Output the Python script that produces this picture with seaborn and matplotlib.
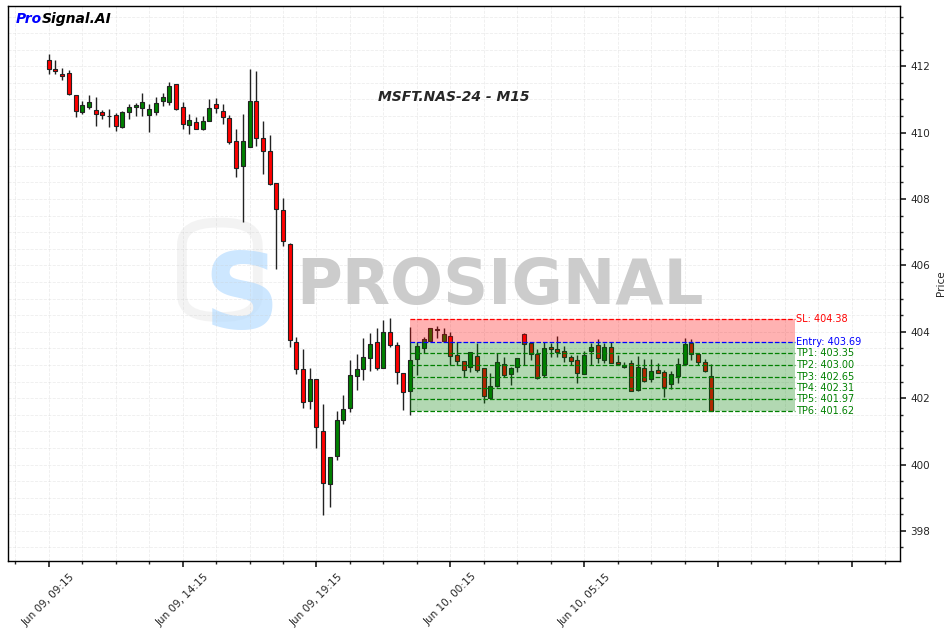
import pandas as pd
import seaborn as sns
import matplotlib
matplotlib.use("Agg")
import matplotlib.pyplot as plt
from matplotlib.ticker import MultipleLocator, FuncFormatter
from matplotlib.patches import FancyBboxPatch

# Dados OHLC (M15)
opens = [412.20, 411.93, 411.78, 411.81, 411.12, 410.62, 410.78, 410.67, 410.61, 410.50,
         410.52, 410.17, 410.61, 410.78, 410.73, 410.52, 410.61, 410.96, 410.92, 411.46,
         410.76, 410.24, 410.33, 410.12, 410.36, 410.85, 410.64, 410.43, 409.74, 409.01,
         409.58, 410.94, 409.85, 409.46, 408.47, 407.66, 406.63, 403.70, 402.87, 401.92,
         402.57, 401.02, 399.40, 400.27, 401.33, 401.69, 402.67, 402.87, 403.22, 403.69,
         402.90, 403.98, 403.59, 402.75, 402.20, 403.17, 403.50, 403.73, 404.08, 403.72,
         403.88, 403.29, 403.11, 402.93, 403.28, 402.90, 401.99, 402.37, 403.04, 402.72,
         402.95, 403.92, 403.65, 403.32, 402.70, 403.53, 403.48, 403.41, 403.23, 403.14,
         402.73, 403.43, 403.59, 403.16, 403.54, 403.10, 402.95, 403.05, 402.25, 402.90,
         402.57, 402.85, 402.78, 402.43, 402.67, 403.02, 403.65, 403.32, 403.08, 402.67]
highs = [412.38, 412.18, 411.96, 411.90, 411.12, 410.96, 411.12, 411.07, 410.67, 410.70,
         410.59, 410.64, 410.86, 410.88, 411.20, 410.86, 411.08, 411.20, 411.53, 411.48,
         410.93, 410.55, 410.47, 410.49, 411.00, 411.03, 410.85, 410.52, 410.12, 410.55,
         411.93, 411.86, 410.35, 409.94, 408.47, 408.02, 406.68, 403.85, 403.47, 402.90,
         402.57, 401.81, 400.22, 401.61, 402.08, 403.15, 403.32, 403.80, 403.97, 404.12,
         404.35, 404.40, 403.70, 402.75, 404.15, 403.70, 403.85, 404.12, 404.17, 404.10,
         403.98, 403.68, 403.11, 403.38, 403.65, 402.90, 402.75, 403.35, 403.25, 402.95,
         403.22, 403.95, 403.65, 403.48, 403.70, 403.65, 403.88, 403.58, 403.30, 403.30,
         403.42, 403.65, 403.78, 403.65, 403.70, 403.30, 403.10, 403.15, 403.26, 403.18,
         403.17, 403.05, 402.85, 402.83, 403.22, 403.82, 403.78, 403.32, 403.18, 403.02]
lows = [411.78, 411.76, 411.58, 411.13, 410.47, 410.55, 410.70, 410.20, 410.40, 410.17,
        410.04, 410.14, 410.40, 410.49, 410.49, 410.02, 410.52, 410.80, 410.83, 410.68,
        410.12, 409.95, 410.10, 410.09, 410.34, 410.58, 410.25, 409.67, 408.65, 407.31,
        409.58, 409.59, 408.74, 408.42, 405.88, 406.58, 403.55, 402.73, 401.69, 401.67,
        400.49, 398.48, 398.73, 400.14, 401.22, 401.57, 402.24, 402.55, 402.83, 402.84,
        402.90, 403.55, 402.42, 401.64, 401.48, 402.70, 403.35, 403.73, 403.80, 403.72,
        403.00, 403.00, 402.64, 402.80, 402.79, 401.84, 401.99, 402.34, 402.64, 402.39,
        402.80, 403.00, 403.15, 402.57, 402.64, 403.25, 403.25, 403.10, 403.00, 402.45,
        402.73, 403.00, 403.05, 403.05, 403.05, 403.00, 402.92, 402.20, 402.20, 402.49,
        402.49, 402.75, 402.02, 402.29, 402.45, 403.02, 403.15, 403.00, 402.78, 401.62]
closes = [411.93, 411.87, 411.72, 411.15, 410.64, 410.83, 410.91, 410.56, 410.52, 410.49,
          410.20, 410.61, 410.76, 410.83, 410.91, 410.71, 410.89, 411.07, 411.40, 410.70,
          410.25, 410.37, 410.12, 410.36, 410.73, 410.73, 410.46, 409.72, 408.92, 409.76,
          410.94, 409.85, 409.46, 408.44, 407.69, 406.75, 403.75, 402.87, 401.87, 402.57,
          401.12, 399.43, 400.22, 401.33, 401.66, 402.69, 402.87, 403.23, 403.62, 402.92,
          403.98, 403.59, 402.78, 402.18, 403.14, 403.56, 403.77, 404.10, 404.04, 403.92,
          403.26, 403.11, 402.84, 403.38, 402.84, 402.05, 402.36, 403.10, 402.70, 402.90,
          403.22, 403.62, 403.32, 402.60, 403.50, 403.47, 403.40, 403.25, 403.13, 402.77,
          403.29, 403.54, 403.22, 403.54, 403.07, 403.04, 403.00, 402.22, 402.93, 402.52,
          402.81, 402.77, 402.34, 402.72, 403.02, 403.62, 403.32, 403.08, 402.83, 401.62]

# Níveis da operação
entrada_idx = 54
nivel_sl = 404.38
nivel_entrada = 403.69
niveis_tp = [403.35, 403.00, 402.65, 402.31, 401.97, 401.62]

df = pd.DataFrame({'open': opens, 'high': highs, 'low': lows, 'close': closes})
df['data'] = pd.date_range('2024-06-09 09:15', periods=len(df), freq='15min')
df['x'] = range(len(df))
df['alta'] = df['close'] >= df['open']

sns.set_theme(style="white")
plt.rcParams['font.family'] = ['DejaVu Sans']

fig = plt.figure(figsize=(9.47, 6.29), dpi=100)
ax = fig.add_axes([0.0084, 0.108, 0.942, 0.8821])

# Pavios e corpos das velas
ax.vlines(df['x'], df['low'], df['high'], color='#222222', linewidth=1, zorder=2)
cores = ['green' if a else 'red' for a in df['alta']]
base = df[['open', 'close']].min(axis=1)
altura = (df['close'] - df['open']).abs().clip(lower=0.015)
ax.bar(df['x'], altura, bottom=base, width=0.6, color=cores,
       edgecolor='#222222', linewidth=0.8, zorder=3)

# Zona da operação
fim = 111.5
ax.fill_between([entrada_idx, fim], nivel_entrada, nivel_sl, color='red', alpha=0.3,
                linewidth=0, zorder=4)
ax.fill_between([entrada_idx, fim], niveis_tp[-1], nivel_entrada, color='green', alpha=0.3,
                linewidth=0, zorder=4)
ax.hlines(nivel_sl, entrada_idx, fim, colors='red', linestyles='--', linewidth=0.9, zorder=5)
ax.hlines(nivel_entrada, entrada_idx, fim, colors='blue', linestyles='--', linewidth=0.9, zorder=5)
ax.hlines(niveis_tp, entrada_idx, fim, colors='green', linestyles='--', linewidth=0.9, zorder=5)
ax.text(fim + 0.2, nivel_sl, f'SL: {nivel_sl:.2f}', color='red', fontsize=7, va='center')
ax.text(fim + 0.2, nivel_entrada, f'Entry: {nivel_entrada:.2f}', color='blue', fontsize=7, va='center')
for n, tp in enumerate(niveis_tp, start=1):
    ax.text(fim + 0.2, tp, f'TP{n}: {tp:.2f}', color='green', fontsize=7, va='center')

# Marca d'água
ax.add_patch(FancyBboxPatch((0.205, 0.45), 0.065, 0.15, boxstyle='round,pad=0.01,rounding_size=0.04',
                            transform=ax.transAxes, fill=False, edgecolor='#d8d8d8',
                            linewidth=7, alpha=0.3, zorder=0))
ax.text(0.262, 0.47, 'S', transform=ax.transAxes, fontsize=76, fontweight='bold',
        color='#b8ddff', alpha=0.7, ha='center', va='center', zorder=0)
ax.text(0.552, 0.494, 'PROSIGNAL', transform=ax.transAxes, fontsize=45, fontweight='bold',
        color='gray', alpha=0.4, ha='center', va='center', zorder=0)

# Títulos
pro = ax.text(0.009, 0.977, 'Pro', transform=ax.transAxes, fontsize=10, fontweight='bold',
              fontstyle='italic', color='blue', va='center')
ax.annotate('Signal.AI', xy=(1, 0.5), xycoords=pro, fontsize=10, fontweight='bold',
            fontstyle='italic', color='black', va='center', ha='left')
ax.text(0.5, 0.836, 'MSFT.NAS-24 - M15', transform=ax.transAxes, fontsize=10,
        fontweight='bold', fontstyle='italic', ha='center', va='center')

# Eixos
ax.set_xlim(-6.1, 127.2)
ax.set_ylim(397.09, 413.81)
ax.yaxis.tick_right()
ax.yaxis.set_label_position('right')
ax.set_ylabel('Price', fontsize=7.5)
ax.yaxis.set_major_locator(MultipleLocator(2))
ax.yaxis.set_minor_locator(MultipleLocator(0.5))
ax.xaxis.set_major_locator(MultipleLocator(20))
ax.xaxis.set_minor_locator(MultipleLocator(5))


def rotulo_data(v, pos):
    i = int(round(v))
    if 0 <= i < len(df) and abs(v - i) < 1e-6:
        return df['data'][i].strftime('%b %d, %H:%M')
    return ''


ax.xaxis.set_major_formatter(FuncFormatter(rotulo_data))
ax.tick_params(axis='both', which='major', labelsize=7.5, length=4, direction='out',
               bottom=True, right=True)
ax.tick_params(axis='both', which='minor', length=2, bottom=True, right=True)
plt.setp(ax.get_xticklabels(), rotation=45)
ax.grid(which='both', linestyle='--', color='#cccccc', alpha=0.35, linewidth=0.6)
for s in ax.spines.values():
    s.set_color('black')
    s.set_linewidth(1)

fig.savefig('out.png', dpi=100)
